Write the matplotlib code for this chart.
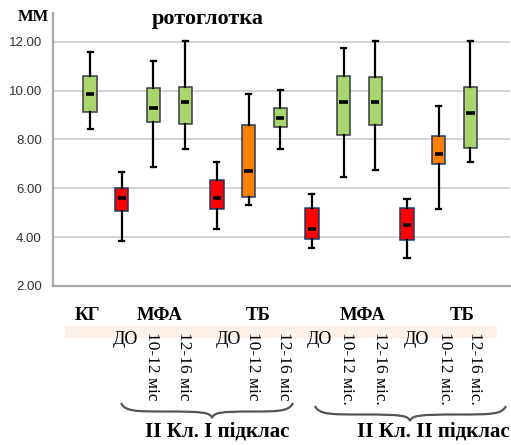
import matplotlib
matplotlib.use("Agg")
import matplotlib.pyplot as plt
from matplotlib.path import Path
from matplotlib.patches import PathPatch, Rectangle

# ---- data ----
groups = ["КГ", "МФА ДО", "МФА 10-12", "МФА 12-16", "ТБ ДО", "ТБ 10-12", "ТБ 12-16",
          "МФА ДО", "МФА 10-12", "МФА 12-16", "ТБ ДО", "ТБ 10-12", "ТБ 12-16"]
whislo = [8.41, 3.85, 6.86, 7.63, 4.33, 5.33, 7.63, 3.56, 6.46, 6.75, 3.16, 5.14, 7.09]
q1     = [9.14, 5.07, 8.73, 8.65, 5.17, 5.64, 8.53, 3.92, 8.19, 8.58, 3.89, 6.98, 7.67]
med    = [9.85, 5.59, 9.29, 9.54, 5.59, 6.73, 8.90, 4.33, 9.55, 9.55, 4.49, 7.39, 9.07]
q3     = [10.61, 6.01, 10.12, 10.16, 6.34, 8.61, 9.29, 5.20, 10.60, 10.54, 5.18, 8.13, 10.16]
whishi = [11.60, 6.68, 11.22, 12.04, 7.07, 9.87, 10.03, 5.77, 11.74, 12.05, 5.55, 9.36, 12.05]
kinds  = ["g", "r", "g", "g", "r", "o", "g", "r", "g", "g", "r", "o", "g"]
yticks = [2, 4, 6, 8, 10, 12]

fill = {"g": "#a9d46f", "r": "#ff0000", "o": "#ff8000"}
edge = {"g": "#3c3c3c", "r": "#1f3a66", "o": "#1f3a66"}

W, H = 511, 445
fig = plt.figure(figsize=(W / 100, H / 100), dpi=100)
ax = fig.add_axes([53 / W, 1 - 286 / H, (510 - 53) / W, (286 - 13) / H])

stats = [dict(whislo=a, q1=b, med=c, q3=d, whishi=e, fliers=[], label=n)
         for a, b, c, d, e, n in zip(whislo, q1, med, q3, whishi, groups)]
pos = list(range(len(stats)))
bp = ax.bxp(stats, positions=pos, widths=0.42, patch_artist=True, showfliers=False,
            whiskerprops=dict(color="black", lw=1.6),
            capprops=dict(color="black", lw=1.6),
            medianprops=dict(color="black", lw=2.6, solid_capstyle="butt"),
            capwidths=0.16, zorder=3)
for box, k in zip(bp["boxes"], kinds):
    box.set_facecolor(fill[k])
    box.set_edgecolor(edge[k])
    box.set_linewidth(1.1)
for m in bp["medians"]:
    x0, x1 = m.get_xdata()[0], m.get_xdata()[1]
    m.set_xdata([x0 + 0.08, x1 - 0.08])

ax.set_xlim(-1.17, 13.25)
ax.set_ylim(2, 13.18)
ax.set_yticks(yticks)
ax.set_yticklabels([f"{v:.2f}" for v in yticks], fontsize=9.5, color="#333333",
                   family="Liberation Sans")
ax.set_xticks([])
ax.tick_params(axis="y", length=0, pad=8)
ax.yaxis.grid(True, color="#d3d3d3", lw=1.4)
ax.set_axisbelow(True)
for s in ["top", "right"]:
    ax.spines[s].set_visible(False)
for s in ["left", "bottom"]:
    ax.spines[s].set_color("#a8a8a8")
    ax.spines[s].set_linewidth(1.6)

serif = "Liberation Serif"

def ftext(x, y, s, **kw):
    fig.text(x / W, 1 - y / H, s, family=serif, ha="center", va="center", **kw)

# title and unit
ftext(208, 19, "ротоглотка", fontsize=16, fontweight="bold")
ftext(33, 17, "ММ", fontsize=12, fontweight="bold")

# peach band
fig.patches.append(Rectangle((65 / W, 1 - 338 / H), (497 - 65) / W, 12 / H,
                             transform=fig.transFigure, facecolor="#fdf2ea",
                             edgecolor="none", zorder=0))

# group headers
for x, s in [(87, "КГ"), (160, "МФА"), (258, "ТБ"), (363, "МФА"), (462, "ТБ")]:
    ftext(x, 315, s, fontsize=13.5, fontweight="bold")

# ДО labels
for x in [125, 228, 319, 416]:
    ftext(x, 339, "ДО", fontsize=13)

# rotated labels
rot = [(152, "10-12 міс"), (184, "12-16 міс"), (253, "10-12 міс"), (284, "12-16 міс"),
       (347, "10-12 міс."), (380, "12-16 міс."), (445, "10-12 міс."), (475, "12-16 міс.")]
for x, s in rot:
    fig.text(x / W, 1 - 332 / H, s, family=serif, fontsize=12.5, rotation=-90,
             ha="center", va="top")

# braces (decorative)
def brace(x0, x1, xt, ytop, ybot):
    ym = (ytop + ybot) / 2 + 1

    def P(x, y):
        return (x / W, 1 - y / H)
    codes = [Path.MOVETO] + [Path.CURVE4] * 12
    verts = [P(x0, ytop), P(x0 + 4, ym), P(x0 + 15, ym), P((x0 + xt) / 2, ym),
             P(xt - 8, ym), P(xt - 2, ym + 1), P(xt, ybot),
             P(xt + 2, ym + 1), P(xt + 8, ym), P((xt + x1) / 2, ym),
             P(x1 - 15, ym), P(x1 - 4, ym), P(x1, ytop)]
    fig.patches.append(PathPatch(Path(verts, codes), transform=fig.transFigure,
                                 facecolor="none", edgecolor="#555555", lw=1.6))

brace(121, 293, 212, 403, 418)
brace(315, 506, 410, 406, 421)

ftext(217, 431, "ІІ Кл. І підклас", fontsize=15, fontweight="bold")
ftext(433, 432, "ІІ Кл. ІІ підклас", fontsize=15, fontweight="bold")

fig.savefig("out.png", dpi=100)
